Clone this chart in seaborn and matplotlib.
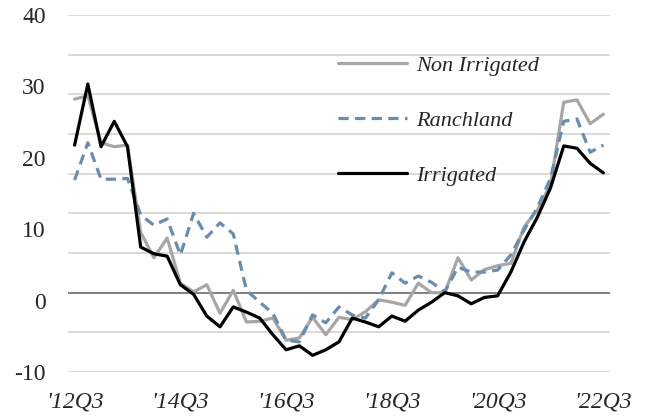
import numpy as np
import pandas as pd
import matplotlib
matplotlib.use("Agg")
import matplotlib.pyplot as plt
import seaborn as sns

# Quarterly series, 2012Q3 through 2022Q3 (41 quarters)
quarters = [f"{y}Q{q}" for y in range(2012, 2023) for q in range(1, 5)][2:43]

non_irrigated = [24.4, 24.8, 18.9, 18.4, 18.6, 7.6, 4.4, 6.9, 1.2, 0.1,
                 1.0, -2.6, 0.3, -3.7, -3.6, -3.2, -6.0, -5.7, -3.1, -5.3,
                 -3.1, -3.4, -2.4, -0.9, -1.2, -1.6, 1.2, 0.0, 0.0, 4.4,
                 1.6, 2.9, 3.4, 3.7, 8.3, 10.4, 13.6, 24.0, 24.3, 21.3,
                 22.5]
ranchland = [14.2, 18.9, 14.3, 14.3, 14.4, 9.8, 8.5, 9.3, 4.75, 10.0,
             7.0, 8.8, 7.4, 0.3, -1.2, -2.6, -6.0, -6.2, -2.8, -3.8,
             -1.8, -2.8, -3.2, -0.9, 2.5, 1.2, 2.1, 1.3, 0.1, 3.2,
             2.6, 2.6, 2.85, 4.75, 7.9, 10.7, 14.4, 21.6, 21.9, 17.7,
             18.6]
irrigated = [18.6, 26.3, 18.4, 21.6, 18.4, 5.75, 4.9, 4.6, 1.0, -0.2,
             -2.95, -4.3, -1.8, -2.45, -3.2, -5.3, -7.2, -6.7, -7.9, -7.2,
             -6.2, -3.2, -3.7, -4.3, -2.95, -3.6, -2.2, -1.2, 0.0, -0.4,
             -1.4, -0.6, -0.4, 2.6, 6.4, 9.5, 13.2, 18.5, 18.2, 16.3,
             15.1]

xtick_labels = ["'12Q3", "'14Q3", "'16Q3", "'18Q3", "'20Q3", "'22Q3"]
ytick_labels = [-10, 0, 10, 20, 30, 40]

series_names = ["Non Irrigated", "Ranchland", "Irrigated"]
series_values = [non_irrigated, ranchland, irrigated]

df = pd.concat(
    [pd.DataFrame({"idx": np.arange(len(quarters)), "quarter": quarters,
                   "value": vals, "series": name})
     for name, vals in zip(series_names, series_values)],
    ignore_index=True,
)

sns.set_theme(style="white")
plt.rcParams["font.family"] = ["Liberation Serif", "DejaVu Serif"]

fig = plt.figure(figsize=(6.47, 4.19), dpi=100)
ax = fig.add_axes([68 / 647, 1 - 372 / 419, 542 / 647, 357 / 419])

styles = {
    "Non Irrigated": dict(color="#A6A6A6", linestyle="-"),
    "Ranchland": dict(color="#6A8DAE", linestyle=(0, (3.2, 2.0))),
    "Irrigated": dict(color="#000000", linestyle="-"),
}

for name in series_names:
    sub = df[df["series"] == name]
    sns.lineplot(data=sub, x="idx", y="value", ax=ax, label=name,
                 linewidth=2.3, **styles[name])

# gridlines every 5 units, zero line darker
ax.set_ylim(-10, 35)
ax.set_yticks(np.arange(-10, 36, 5))
ax.set_yticklabels([])
ax.tick_params(axis="y", length=0)
for v in np.arange(-10, 36, 5):
    ax.axhline(v, color="#808080" if v == 0 else "#D9D9D9",
               linewidth=1.4, zorder=0)

# visible value scale on the left
def fwd(v):
    return (v + 10) / 0.9 - 10

def inv(lbl):
    return -10 + 0.9 * (lbl + 10)

sec = ax.secondary_yaxis("left", functions=(fwd, inv))
sec.set_yticks(ytick_labels)
sec.set_yticklabels([str(t) for t in ytick_labels], fontsize=17)
sec.tick_params(length=0, pad=16)
sec.spines["left"].set_visible(False)

ax.set_xlim(-0.5, len(quarters) - 0.5)
ax.set_xticks(np.arange(0, len(quarters), 8))
ax.set_xticklabels(xtick_labels, fontsize=17, style="italic")
ax.tick_params(axis="x", length=0, pad=14)
ax.set_xlabel("")
ax.set_ylabel("")
for s in ax.spines.values():
    s.set_visible(False)

leg = ax.legend(loc="upper left", bbox_to_anchor=(338 / 647, 1 - 55 / 419),
                bbox_transform=fig.transFigure, frameon=False,
                prop={"family": "Liberation Serif", "style": "italic", "size": 16},
                handlelength=3.1, handletextpad=0.4, labelspacing=1.55,
                borderpad=0, borderaxespad=0)

fig.savefig("out.png", dpi=100)
